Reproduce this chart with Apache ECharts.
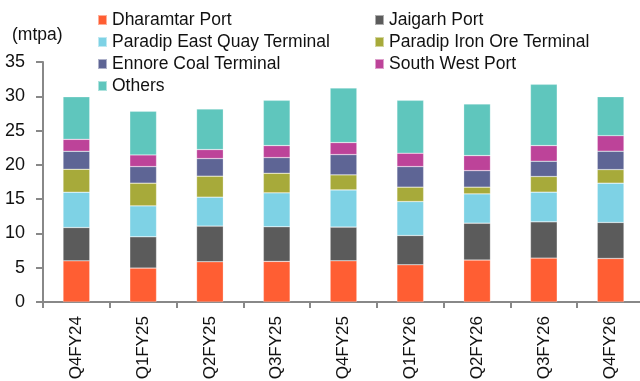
<!DOCTYPE html>
<html><head><meta charset="utf-8">
<script src="https://cdn.jsdelivr.net/npm/echarts@6/dist/echarts.min.js"></script>
<style>html,body{margin:0;padding:0;background:#fff}#c{width:640px;height:381px}</style>
</head><body><div id="c"></div>
<script>
const categories = ['Q4FY24','Q1FY25','Q2FY25','Q3FY25','Q4FY25','Q1FY26','Q2FY26','Q3FY26','Q4FY26'];
const dharamtar = [6.0, 4.95, 5.87, 5.92, 6.01, 5.43, 6.11, 6.4, 6.35];
const jaigarh   = [4.86, 4.56, 5.2, 5.05, 4.91, 4.27, 5.39, 5.29, 5.25];
const paradipEQ = [5.15, 4.51, 4.22, 4.95, 5.43, 4.95, 4.27, 4.33, 5.73];
const paradipIO = [3.35, 3.31, 3.06, 2.86, 2.19, 2.1, 0.98, 2.28, 1.98];
const ennore    = [2.62, 2.42, 2.57, 2.28, 2.96, 3.0, 2.41, 2.23, 2.68];
const southWest = [1.74, 1.70, 1.31, 1.75, 1.75, 1.95, 2.19, 2.28, 2.27];
const others    = [6.21, 6.36, 5.92, 6.6, 7.96, 7.71, 7.53, 8.93, 5.68];
const yTicks = [0, 5, 10, 15, 20, 25, 30, 35];

const names = ['Dharamtar Port','Jaigarh Port','Paradip East Quay Terminal','Paradip Iron Ore Terminal','Ennore Coal Terminal','South West Port','Others'];
const colors = ['#FF5E33','#5B5B5B','#7ED2E5','#A7AA3A','#5E6595','#BD4399','#5FC6BD'];
const values = [dharamtar, jaigarh, paradipEQ, paradipIO, ennore, southWest, others];

const font = 'Liberation Sans, Arial, sans-serif';
const chart = echarts.init(document.getElementById('c'), null, {renderer:'canvas'});
const legendCommon = {
  orient: 'vertical', top: 6, itemWidth: 9, itemHeight: 10, itemGap: 4,
  icon: 'rect', selectedMode: false,
  textStyle: {fontFamily: font, fontSize: 17.5, color: '#111', lineHeight: 17}
};
chart.setOption({
  animation: false,
  color: colors,
  title: {text: '(mtpa)', left: 7, top: 21, textStyle: {fontFamily: font, fontSize: 17.5, fontWeight: 'normal', color: '#111'}},
  legend: [
    Object.assign({}, legendCommon, {left: 92, data: [names[0], names[2], names[4], names[6]]}),
    Object.assign({}, legendCommon, {left: 369, data: [names[1], names[3], names[5]]})
  ],
  grid: {left: 43, top: 62, width: 601, height: 240, containLabel: false, outerBoundsMode: 'none'},
  xAxis: {
    type: 'category', data: categories,
    axisLine: {lineStyle: {color: '#888', width: 2}},
    axisTick: {show: true, length: 6, lineStyle: {color: '#888', width: 2}},
    axisLabel: {rotate: 90, fontFamily: font, fontSize: 17, color: '#111', margin: 14}
  },
  yAxis: {
    type: 'value', min: 0, max: 35, interval: 5,
    splitLine: {show: false},
    axisLine: {show: true, lineStyle: {color: '#888', width: 2}},
    axisTick: {show: true, length: 7, lineStyle: {color: '#888', width: 2}},
    axisLabel: {fontFamily: font, fontSize: 18, color: '#111', margin: 18,
      formatter: v => yTicks.includes(v) ? String(v) : ''}
  },
  series: names.map((n, i) => ({
    name: n, type: 'bar', stack: 'total', data: values[i], barWidth: '40%',
    itemStyle: {color: colors[i], borderColor: 'rgba(255,255,255,0.5)', borderWidth: 0.5}
  }))
});
</script></body></html>
